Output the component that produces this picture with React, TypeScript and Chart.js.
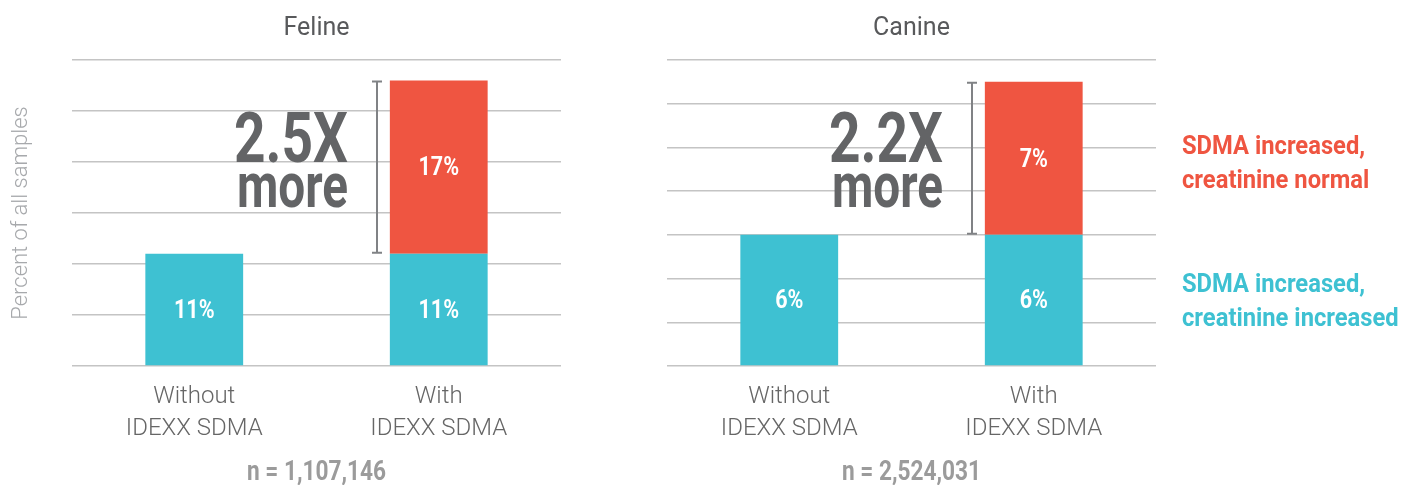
import React, { useEffect, useRef } from "react";
import { Chart, registerables } from "chart.js";

Chart.register(...registerables);

// ---------------- data ----------------
const categories: string[][] = [
  ["Without", "IDEXX SDMA"],
  ["With", "IDEXX SDMA"],
];
const seriesLabels = [
  "SDMA increased, creatinine increased",
  "SDMA increased, creatinine normal",
];
const felineCreatinineIncreased = [11, 11];
const felineCreatinineNormal = [null, 17];
const canineCreatinineIncreased = [6, 6];
const canineCreatinineNormal = [null, 7];
const felineTitle = "Feline";
const canineTitle = "Canine";
const felineSampleSize = "n = 1,107,146";
const canineSampleSize = "n = 2,524,031";
const felineFold = ["2.5X", "more"];
const canineFold = ["2.2X", "more"];
const felineYMax = 30;
const felineYStep = 5;
const canineYMax = 14;
const canineYStep = 2;
const yAxisTitle = "Percent of all samples";

// ---------------- style ----------------
const TEAL = "#3ec1d2";
const RED = "#ef5541";
const FONT = "Roboto, 'Liberation Sans', sans-serif";
const W = 1414;
const H = 485;

function drawText(
  ctx: CanvasRenderingContext2D,
  text: string,
  x: number,
  y: number,
  font: string,
  color: string,
  align: CanvasTextAlign,
  baseline: CanvasTextBaseline,
  sx = 1,
  fitWidth?: number
) {
  ctx.save();
  ctx.font = font;
  ctx.fillStyle = color;
  ctx.textAlign = align;
  ctx.textBaseline = baseline;
  let s = sx;
  if (fitWidth) s = fitWidth / ctx.measureText(text).width;
  ctx.translate(x, y);
  ctx.scale(s, 1);
  ctx.fillText(text, 0, 0);
  ctx.restore();
}

const overlayPlugin = {
  id: "overlay",
  afterDatasetsDraw(chart: any, _args: any, opts: any) {
    const ctx: CanvasRenderingContext2D = chart.ctx;
    const area = chart.chartArea;
    // segment value labels
    chart.data.datasets.forEach((ds: any, di: number) => {
      const meta = chart.getDatasetMeta(di);
      meta.data.forEach((bar: any, i: number) => {
        const v = ds.data[i];
        if (v == null) return;
        const p = bar.getProps(["x", "y", "base"], true);
        drawText(ctx, `${v}%`, p.x, (p.y + p.base) / 2 + 2, `bold 25px ${FONT}`, "#ffffff", "center", "middle", 0.86);
      });
    });
    // bracket spanning the added (creatinine normal) segment
    const lower = chart.getDatasetMeta(0).data[1];
    const upper = chart.getDatasetMeta(1).data[1];
    const u = upper.getProps(["x", "y", "width"], true);
    const l = lower.getProps(["y"], true);
    const bx = Math.round(u.x - u.width / 2 - 13);
    ctx.save();
    ctx.strokeStyle = "#808285";
    ctx.lineWidth = 2;
    ctx.beginPath();
    ctx.moveTo(bx, u.y + 1);
    ctx.lineTo(bx, l.y - 1);
    ctx.moveTo(bx - 5, u.y + 1);
    ctx.lineTo(bx + 5, u.y + 1);
    ctx.moveTo(bx - 5, l.y - 1);
    ctx.lineTo(bx + 5, l.y - 1);
    ctx.stroke();
    ctx.restore();
    // fold text
    const tx = bx - 29;
    drawText(ctx, opts.fold[0], tx, area.top + 102, `bold 70px ${FONT}`, "#636466", "right", "alphabetic", 1, 114);
    drawText(ctx, opts.fold[1], tx, area.top + 147, `bold 63px ${FONT}`, "#636466", "right", "alphabetic", 1, 111);
    // sample size
    drawText(ctx, opts.sampleSize, (area.left + area.right) / 2, chart.height - 5, `bold 27px ${FONT}`, "#9b9b9b", "center", "alphabetic", 0.84);
    // legend
    if (opts.legend) {
      const lx = area.right + 26;
      const entries = [
        { label: chart.data.datasets[1].label, color: chart.data.datasets[1].backgroundColor, y: area.top + 94 },
        { label: chart.data.datasets[0].label, color: chart.data.datasets[0].backgroundColor, y: area.top + 232 },
      ];
      entries.forEach((e) => {
        const parts = String(e.label).split(", ");
        const lines = [parts[0] + ",", parts.slice(1).join(", ")];
        lines.forEach((ln, k) => {
          drawText(ctx, ln, lx, e.y + k * 34, `bold 25px ${FONT}`, e.color, "left", "alphabetic", 0.95);
        });
      });
    }
  },
};

function makeConfig(opts: {
  title: string;
  blue: (number | null)[];
  red: (number | null)[];
  max: number;
  step: number;
  yWidth: number;
  padRight: number;
  showYTitle: boolean;
  fold: string[];
  sampleSize: string;
  legend: boolean;
}): any {
  return {
    type: "bar",
    data: {
      labels: categories,
      datasets: [
        { label: seriesLabels[0], data: opts.blue, backgroundColor: TEAL, barPercentage: 0.4, categoryPercentage: 1, borderWidth: 0 },
        { label: seriesLabels[1], data: opts.red, backgroundColor: RED, barPercentage: 0.4, categoryPercentage: 1, borderWidth: 0 },
      ],
    },
    options: {
      responsive: false,
      animation: false,
      layout: { padding: { left: 0, right: opts.padRight, top: 0, bottom: 0 } },
      plugins: {
        legend: { display: false },
        tooltip: { enabled: false },
        title: {
          display: true,
          text: opts.title,
          fullSize: false,
          color: "#58595b",
          font: { family: FONT, size: 25, weight: "normal", lineHeight: 1.2 },
          padding: { top: 14, bottom: 16 },
        },
        overlay: { fold: opts.fold, sampleSize: opts.sampleSize, legend: opts.legend },
      },
      scales: {
        x: {
          stacked: true,
          grid: { display: false, drawTicks: false },
          border: { display: false },
          ticks: {
            color: "#666666",
            font: { family: FONT, size: 24, weight: "300", lineHeight: 1.34 },
            padding: 15,
            maxRotation: 0,
            autoSkip: false,
          },
          afterFit: (s: any) => {
            s.height = 119;
          },
        },
        y: {
          stacked: true,
          min: 0,
          max: opts.max,
          ticks: { display: false, stepSize: opts.step },
          grid: { color: "#c4c4c4", lineWidth: 1.5, drawTicks: false },
          border: { display: false },
          title: {
            display: opts.showYTitle,
            text: yAxisTitle,
            color: "#a7a9ac",
            font: { family: FONT, size: 22, weight: "300", lineHeight: 1.2 },
            padding: { top: 8, bottom: 0 },
          },
          afterFit: (s: any) => {
            s.width = opts.yWidth;
          },
        },
      },
    },
    plugins: [overlayPlugin],
  };
}

function ChartCanvas({ config, width, left }: { config: any; width: number; left: number }) {
  const ref = useRef<HTMLCanvasElement>(null);
  useEffect(() => {
    const chart = new Chart(ref.current as HTMLCanvasElement, config);
    return () => chart.destroy();
  }, []);
  return (
    <canvas
      ref={ref}
      width={width}
      height={H}
      style={{ position: "absolute", left, top: 0, width, height: H, display: "block" }}
    />
  );
}

export default function App() {
  const feline = makeConfig({
    title: felineTitle,
    blue: felineCreatinineIncreased,
    red: felineCreatinineNormal,
    max: felineYMax,
    step: felineYStep,
    yWidth: 72,
    padRight: 39,
    showYTitle: true,
    fold: felineFold,
    sampleSize: felineSampleSize,
    legend: false,
  });
  const canine = makeConfig({
    title: canineTitle,
    blue: canineCreatinineIncreased,
    red: canineCreatinineNormal,
    max: canineYMax,
    step: canineYStep,
    yWidth: 67,
    padRight: 258,
    showYTitle: false,
    fold: canineFold,
    sampleSize: canineSampleSize,
    legend: true,
  });
  return (
    <div style={{ position: "absolute", left: 0, top: 0, width: W, height: H, background: "#ffffff" }}>
      <ChartCanvas config={feline} width={600} left={0} />
      <ChartCanvas config={canine} width={814} left={600} />
    </div>
  );
}
